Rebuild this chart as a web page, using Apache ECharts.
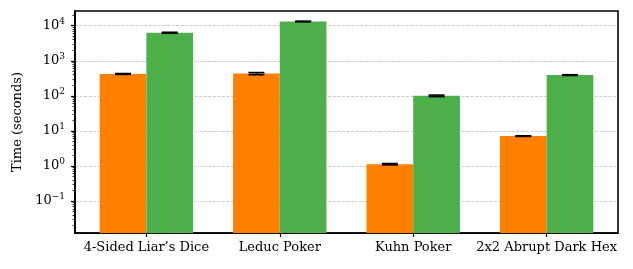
<!DOCTYPE html>
<html>
<head>
<meta charset="utf-8">
<script src="https://cdn.jsdelivr.net/npm/echarts@6/dist/echarts.min.js"></script>
<style>html,body{margin:0;padding:0;background:#fff}#c{width:633px;height:269px}</style>
</head>
<body>
<div id="c"></div>
<script>
var categories = ["4-Sided Liar\u2019s Dice", "Leduc Poker", "Kuhn Poker", "2x2 Abrupt Dark Hex"];
var orangeValues = [420, 430, 1.12, 7.1];
var orangeErrors = [12, 30, 0.05, 0.15];
var greenValues = [6300, 13200, 100, 390];
var greenErrors = [200, 300, 5, 10];
var yMajorTicks = [0.1, 1, 10, 100, 1000, 10000];
var yMin = 0.0122, yMax = 26300;

var minorTicks = [];
for (var e = -2; e <= 4; e++) {
  for (var m = 2; m <= 9; m++) {
    var v = m * Math.pow(10, e);
    if (v > yMin && v < yMax) minorTicks.push(v);
  }
}
var FONT = 'DejaVu Serif';
var catIdx = categories.map(function (c, i) { return i; });

function errData(vals, errs) {
  return vals.map(function (v, i) { return [i, v - errs[i], v + errs[i]]; });
}
function errSeries(vals, errs, off) {
  return {
    type: 'custom', xAxisIndex: 0, yAxisIndex: 0, z: 10,
    data: errData(vals, errs),
    encode: { x: 0, y: [1, 2] },
    renderItem: function (params, api) {
      var x = api.value(0) + off;
      var lo = api.coord([x, api.value(1)]);
      var hi = api.coord([x, api.value(2)]);
      var cw = 8;
      var st = { stroke: '#000', lineWidth: 1.6 };
      return { type: 'group', children: [
        { type: 'line', shape: { x1: lo[0], y1: lo[1], x2: hi[0], y2: hi[1] }, style: st },
        { type: 'line', shape: { x1: hi[0] - cw, y1: hi[1], x2: hi[0] + cw, y2: hi[1] }, style: st },
        { type: 'line', shape: { x1: lo[0] - cw, y1: lo[1], x2: lo[0] + cw, y2: lo[1] }, style: st }
      ]};
    }
  };
}

var chart = echarts.init(document.getElementById('c'), null, { renderer: 'canvas' });
chart.setOption({
  animation: false,
  backgroundColor: '#fff',
  grid: { left: 75, right: 15, top: 11, bottom: 36, show: true, borderColor: '#000', borderWidth: 1.6, backgroundColor: 'transparent' },
  xAxis: {
    type: 'value', min: -0.535, max: 3.535,
    axisLine: { show: true, onZero: false, lineStyle: { color: '#000', width: 1.6 } },
    splitLine: { show: false },
    axisTick: { show: true, customValues: catIdx, length: 4, lineStyle: { color: '#000', width: 1.2 } },
    axisLabel: { customValues: catIdx, color: '#000', fontFamily: FONT, fontSize: 13, margin: 8,
      formatter: function (v) { return categories[Math.round(v)]; } }
  },
  yAxis: [{
    type: 'log', logBase: 10, min: yMin, max: yMax, startValue: yMin,
    name: 'Time (seconds)', nameLocation: 'middle', nameGap: 47,
    nameTextStyle: { color: '#000', fontFamily: FONT, fontSize: 13 },
    axisLine: { show: true, onZero: false, lineStyle: { color: '#000', width: 1.6 } },
    axisTick: { show: true, customValues: yMajorTicks, length: 4, lineStyle: { color: '#000', width: 1.2 } },
    splitLine: { show: true, lineStyle: { color: '#c4c4c4', type: [3, 1.6], width: 0.9 } },
    axisLabel: {
      customValues: yMajorTicks, color: '#000', margin: 10,
      formatter: function (v) {
        var ex = Math.round(Math.log10(v));
        return '{b|10}{s|' + (ex < 0 ? '\u2212' + (-ex) : ex) + '}';
      },
      rich: {
        b: { fontFamily: FONT, fontSize: 13, color: '#000' },
        s: { fontFamily: FONT, fontSize: 9, color: '#000', padding: [0, 0, 8, 0] }
      }
    }
  }, {
    type: 'log', logBase: 10, min: yMin, max: yMax, position: 'left',
    axisLine: { show: true, onZero: false, lineStyle: { color: '#000', width: 1.6 } },
    splitLine: { show: false }, axisLabel: { show: false },
    axisTick: { show: true, customValues: minorTicks, length: 2.5, lineStyle: { color: '#000', width: 0.8 } }
  }],
  series: [
    { type: 'bar', name: 'orange', data: orangeValues.map(function (v, i) { return [i, v]; }),
      barWidth: '35%', barGap: '0%', itemStyle: { color: '#ff7f00' } },
    { type: 'bar', name: 'green', data: greenValues.map(function (v, i) { return [i, v]; }),
      barWidth: '35%', barGap: '0%', itemStyle: { color: '#4daf4a' } },
    errSeries(orangeValues, orangeErrors, -0.175),
    errSeries(greenValues, greenErrors, 0.175)
  ]
});
</script>
</body>
</html>
